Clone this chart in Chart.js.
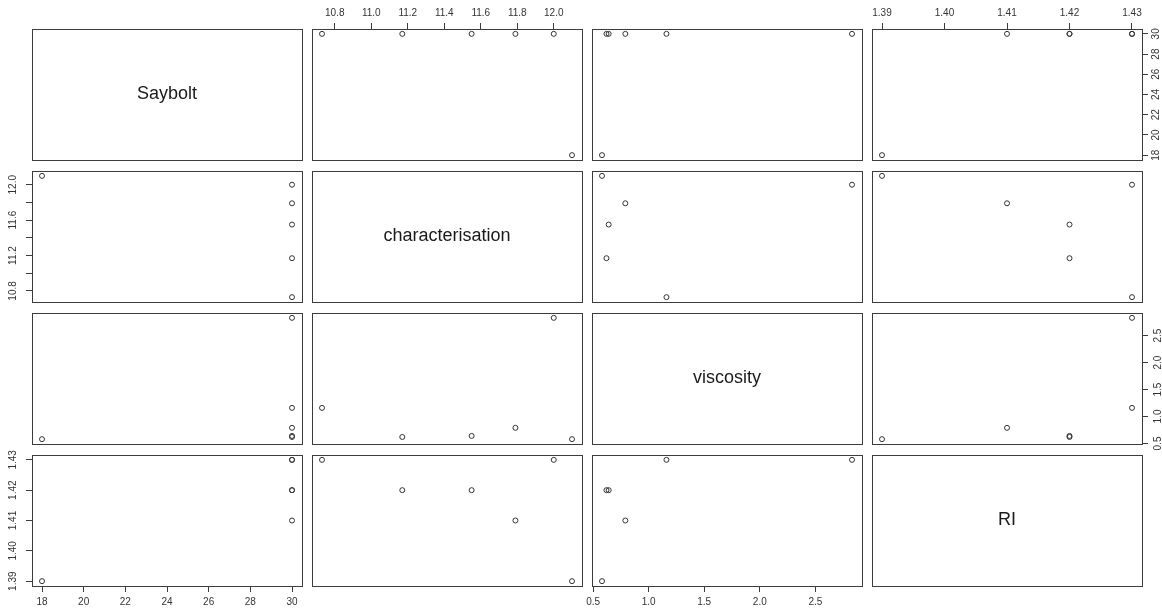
<!DOCTYPE html>
<html>
<head>
<meta charset="utf-8">
<script src="https://cdn.jsdelivr.net/npm/chart.js@4/dist/chart.umd.min.js"></script>
<style>
  html, body { margin: 0; padding: 0; background: #fff; }
  #wrap { position: relative; width: 1162px; height: 613px; overflow: hidden; background: #fff; }
  #wrap canvas { position: absolute; }
</style>
</head>
<body>
<div id="wrap"></div>
<script>
// one row per variable, one entry per observation (6 samples)
const varNames = ['Saybolt', 'characterisation', 'viscosity', 'RI'];
const saybolt = [18, 30, 30, 30, 30, 30];
const characterisation = [12.10, 12.00, 11.79, 11.55, 11.17, 10.73];
const viscosity = [0.58, 2.83, 0.79, 0.64, 0.62, 1.16];
const ri = [1.39, 1.43, 1.41, 1.42, 1.42, 1.43];

// axis ticks and their labels
const sayboltTicks = [18, 20, 22, 24, 26, 28, 30];
const sayboltLabels = ['18', '20', '22', '24', '26', '28', '30'];
const charTicks = [10.8, 11.0, 11.2, 11.4, 11.6, 11.8, 12.0];
const charLabels = ['10.8', '11.0', '11.2', '11.4', '11.6', '11.8', '12.0'];
const charSideLabels = ['10.8', '', '11.2', '', '11.6', '', '12.0'];
const viscTicks = [0.5, 1.0, 1.5, 2.0, 2.5];
const viscLabels = ['0.5', '1.0', '1.5', '2.0', '2.5'];
const riTicks = [1.39, 1.40, 1.41, 1.42, 1.43];
const riLabels = ['1.39', '1.40', '1.41', '1.42', '1.43'];

const vars = [
  { values: saybolt, ticks: sayboltTicks, labels: sayboltLabels, side: sayboltLabels },
  { values: characterisation, ticks: charTicks, labels: charLabels, side: charSideLabels },
  { values: viscosity, ticks: viscTicks, labels: viscLabels, side: viscLabels },
  { values: ri, ticks: riTicks, labels: riLabels, side: riLabels }
];

// panel layout
const colLeft = [32, 312, 592, 872];
const rowTop = [29, 171, 313, 455];
const PW = 270, PH = 131, M = 30;
const INK = '#3c3c3c';
const FONT = 'Liberation Sans, Arial, sans-serif';

function range(vals) {
  const lo = Math.min(...vals), hi = Math.max(...vals);
  const pad = (hi - lo) * 0.04;
  return [lo - pad, hi + pad];
}

function makeAxis(pos, v, show, labels) {
  const horiz = pos === 'top' || pos === 'bottom';
  const [lo, hi] = range(v.values);
  return {
    type: 'linear',
    position: pos,
    min: lo,
    max: hi,
    afterBuildTicks: s => { s.ticks = v.ticks.map(t => ({ value: t })); },
    afterFit: s => { if (horiz) s.height = M; else s.width = M; },
    grid: { display: show, drawOnChartArea: false, drawTicks: true, tickLength: 6, color: INK, lineWidth: 1 },
    border: { display: true, color: INK, width: 1 },
    ticks: {
      display: show,
      autoSkip: false,
      padding: horiz ? 4 : 3,
      color: '#333',
      font: { family: FONT, size: 10 },
      minRotation: horiz ? 0 : 90,
      maxRotation: horiz ? 0 : 90,
      crossAlign: horiz ? 'near' : 'center',
      callback: (val, idx) => labels[idx]
    }
  };
}

const diagLabel = {
  id: 'diagLabel',
  afterDraw(chart, args, opts) {
    if (!opts.text) return;
    const { ctx, chartArea: a } = chart;
    ctx.save();
    ctx.fillStyle = '#1a1a1a';
    ctx.font = '18px ' + FONT;
    ctx.textAlign = 'center';
    ctx.textBaseline = 'middle';
    ctx.fillText(opts.text, (a.left + a.right) / 2, (a.top + a.bottom) / 2);
    ctx.restore();
  }
};

const wrap = document.getElementById('wrap');
const n = vars.length;

for (let i = 0; i < n; i++) {
  for (let j = 0; j < n; j++) {
    const canvas = document.createElement('canvas');
    canvas.width = PW + 2 * M;
    canvas.height = PH + 2 * M;
    canvas.style.left = (colLeft[j] - M) + 'px';
    canvas.style.top = (rowTop[i] - M) + 'px';
    wrap.appendChild(canvas);

    const xv = vars[j], yv = vars[i];
    const showTop = i === 0 && j % 2 === 1;
    const showBottom = i === n - 1 && j % 2 === 0;
    const showLeft = j === 0 && i % 2 === 1;
    const showRight = j === n - 1 && i % 2 === 0;

    const points = i === j ? [] : xv.values.map((x, k) => ({ x: x, y: yv.values[k] }));

    new Chart(canvas, {
      type: 'scatter',
      data: {
        datasets: [{
          data: points,
          pointStyle: 'circle',
          pointRadius: 2.5,
          pointBorderWidth: 1,
          pointBackgroundColor: 'rgba(0,0,0,0)',
          pointBorderColor: '#333',
          showLine: false
        }]
      },
      options: {
        responsive: false,
        animation: false,
        devicePixelRatio: 1,
        layout: { padding: 0 },
        events: [],
        plugins: {
          legend: { display: false },
          tooltip: { enabled: false },
          diagLabel: { text: i === j ? varNames[i] : '' }
        },
        scales: {
          x: makeAxis('bottom', xv, showBottom, xv.labels),
          x2: makeAxis('top', xv, showTop, xv.labels),
          y: makeAxis('left', yv, showLeft, yv.side),
          y2: makeAxis('right', yv, showRight, yv.side)
        }
      },
      plugins: [diagLabel]
    });
  }
}
</script>
</body>
</html>
